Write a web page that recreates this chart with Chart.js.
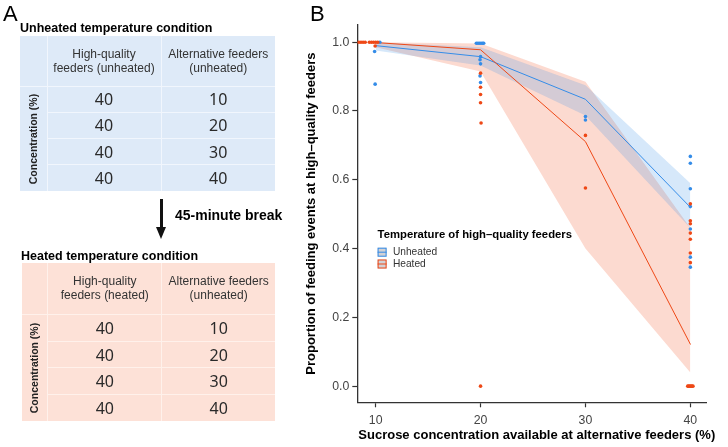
<!DOCTYPE html>
<html><head><meta charset="utf-8">
<script src="https://cdn.jsdelivr.net/npm/chart.js@4.4.0/dist/chart.umd.min.js"></script>
<style>
html,body{margin:0;padding:0;background:#fff;}
body{width:728px;height:447px;position:relative;overflow:hidden;font-family:'Liberation Sans',Arial,Helvetica,sans-serif;}
#chart{position:absolute;left:0;top:0;}
.t{position:absolute;white-space:nowrap;color:#000;}
.panel{font-size:22px;line-height:22px;}
.title{font-weight:bold;font-size:12.5px;line-height:14px;}
.tbl{position:absolute;display:grid;column-gap:1px;row-gap:1px;}
.cell{display:flex;align-items:center;justify-content:center;text-align:center;color:#333;overflow:visible;}
.hdr{font-size:12px;line-height:14px;}
.num{font-family:'Noto Sans',sans-serif;font-size:16px;color:#2a2a2a;}
.rowlab span{transform:rotate(-90deg);font-weight:bold;font-size:10.5px;white-space:nowrap;color:#222;display:block;}
.arrow-shaft{position:absolute;background:#111;}
.arrow-head{position:absolute;width:0;height:0;border-left:5.5px solid transparent;border-right:5.5px solid transparent;border-top:12px solid #111;}
</style></head>
<body>
<canvas id="chart" width="728" height="447"></canvas>
<div id="panelA"></div>
<script>
// ---------- Panel A table contents ----------
const highQualityConc = [40, 40, 40, 40];
const alternativeConc = [10, 20, 30, 40];
const unheatedHeader = [["High-quality", "feeders (unheated)"], ["Alternative feeders", "(unheated)"]];
const heatedHeader = [["High-quality", "feeders (heated)"], ["Alternative feeders", "(unheated)"]];

// ---------- Panel B data ----------
const concentrations = [10, 20, 30, 40];
const unheatedMean  = [0.990, 0.958, 0.834, 0.520];
const unheatedUpper = [1.000, 0.985, 0.875, 0.590];
const unheatedLower = [0.976, 0.932, 0.787, 0.460];
const heatedMean    = [0.999, 0.978, 0.711, 0.122];
const heatedUpper   = [1.000, 0.996, 0.885, 0.460];
const heatedLower   = [0.985, 0.915, 0.400, 0.040];

const unheatedPtsX = [10.4, 9.9, 9.95, 19.6, 19.75, 19.9, 20.05, 20.2, 20.3, 20.0, 19.95, 20.0, 19.95, 20.0, 30.0, 30.0, 40.0, 40.0, 40.0, 40.0, 40.0, 40.0, 40.0];
const unheatedPtsY = [1.0, 0.973, 0.878, 0.997, 0.997, 0.997, 0.997, 0.997, 0.997, 0.958, 0.949, 0.937, 0.902, 0.883, 0.784, 0.774, 0.668, 0.648, 0.574, 0.522, 0.457, 0.375, 0.346];
const heatedPtsX = [8.4, 8.6, 8.8, 9.0, 9.4, 9.6, 9.8, 10.0, 10.2, 9.95, 20.0, 20.0, 20.0, 20.0, 20.05, 20.0, 30.0, 30.0, 40.0, 40.0, 40.0, 40.0, 40.0, 40.0, 40.0, 39.75, 39.85, 39.95, 40.05, 40.15, 40.25];
const heatedPtsY = [1, 1, 1, 1, 1, 1, 1, 1, 1, 0.989, 0.910, 0.869, 0.848, 0.824, 0.765, 0.0, 0.729, 0.576, 0.530, 0.481, 0.472, 0.445, 0.427, 0.387, 0.359, 0, 0, 0, 0, 0, 0];

const xTicks = [10, 20, 30, 40];
const yTicks = [0, 0.2, 0.4, 0.6, 0.8, 1.0];
const legendTitle = "Temperature of high\u2013quality feeders";
const legendLabels = ["Unheated", "Heated"];
const xTitle = "Sucrose concentration available at alternative feeders (%)";
const yTitle = "Proportion of feeding events at high\u2013quality feeders";

const BLUE = 'rgb(52,140,232)';
const RED = 'rgb(238,72,22)';
const BLUE_FILL = 'rgba(52,140,232,0.2)';
const RED_FILL = 'rgba(238,72,22,0.2)';

// ---------- Build panel A ----------
const panelA = document.getElementById('panelA');
function addText(txt, cls, left, top, extra) {
  const d = document.createElement('div');
  d.className = 't ' + cls;
  d.textContent = txt;
  d.style.left = left + 'px';
  d.style.top = top + 'px';
  if (extra) Object.assign(d.style, extra);
  panelA.appendChild(d);
  return d;
}
function buildTable(cfg) {
  const t = document.createElement('div');
  t.className = 'tbl';
  t.style.left = cfg.left + 'px';
  t.style.top = cfg.top + 'px';
  t.style.gridTemplateColumns = cfg.cols.map(c => c + 'px').join(' ');
  t.style.gridTemplateRows = cfg.rows.map(r => r + 'px').join(' ');
  t.style.background = cfg.line;
  function cell(col, row, cls, html) {
    const c = document.createElement('div');
    c.className = 'cell ' + (cls || '');
    c.style.gridColumn = col;
    c.style.gridRow = row;
    c.style.background = cfg.bg;
    if (html !== undefined) c.innerHTML = html;
    t.appendChild(c);
    return c;
  }
  cell('1', '1', '', '');
  cell('2', '1', 'hdr', cfg.header[0].join('<br>'));
  cell('3', '1', 'hdr', cfg.header[1].join('<br>'));
  cell('1', '2 / 6', 'rowlab', '<span>Concentration (%)</span>');
  highQualityConc.forEach((v, i) => {
    cell('2', String(i + 2), 'num', String(v));
    cell('3', String(i + 2), 'num', String(alternativeConc[i]));
  });
  panelA.appendChild(t);
}
addText('A', 'panel', 3, 3);
addText('Unheated temperature condition', 'title', 20, 21);
buildTable({left: 19.5, top: 36, cols: [27, 113, 113.5], rows: [49.5, 25.3, 25.3, 25.3, 25.3], bg: '#deeaf8', line: '#f1f6fd', header: unheatedHeader});
const shaft = document.createElement('div');
shaft.className = 'arrow-shaft';
Object.assign(shaft.style, {left: '159.8px', top: '199px', width: '3.6px', height: '29px'});
panelA.appendChild(shaft);
const head = document.createElement('div');
head.className = 'arrow-head';
Object.assign(head.style, {left: '156.1px', top: '226.5px'});
panelA.appendChild(head);
addText('45-minute break', 'title', 175, 207, {fontSize: '14px', lineHeight: '16px'});
addText('Heated temperature condition', 'title', 21, 249);
buildTable({left: 21.5, top: 262.7, cols: [25.8, 113, 112.7], rows: [51.3, 25.7, 25.7, 25.7, 25.7], bg: '#fde1d7', line: '#fff1eb', header: heatedHeader});
addText('B', 'panel', 310, 3);

// ---------- Chart ----------
const toXY = (xs, ys) => xs.map((x, i) => ({x: x, y: ys[i]}));
const ribbon = (vals) => concentrations.map((c, i) => ({x: c, y: vals[i]}));

const legendPlugin = {
  id: 'customLegend',
  afterDatasetsDraw(chart) {
    const ctx = chart.ctx;
    const a = chart.chartArea;
    const x0 = a.left + 20.3, y0 = a.top + 209.5;
    ctx.save();
    ctx.textAlign = 'left';
    ctx.textBaseline = 'middle';
    ctx.fillStyle = '#000';
    ctx.font = 'bold 11.3px "Liberation Sans", Arial, sans-serif';
    ctx.fillText(legendTitle, x0, y0);
    const cols = [BLUE, RED];
    legendLabels.forEach((lab, i) => {
      const ky = y0 + 13.2 + i * 11.8;
      ctx.fillStyle = '#d2d2d6';
      ctx.fillRect(x0, ky, 9, 9);
      ctx.strokeStyle = cols[i];
      ctx.lineWidth = 1;
      ctx.strokeRect(x0 + 0.5, ky + 0.5, 8, 8);
      ctx.beginPath();
      ctx.moveTo(x0, ky + 4.5);
      ctx.lineTo(x0 + 9, ky + 4.5);
      ctx.stroke();
      ctx.fillStyle = '#333';
      ctx.font = '10.2px "Liberation Sans", Arial, sans-serif';
      ctx.fillText(lab, x0 + 15.3, ky + 4.6);
    });
    // x axis title (drawn here so it is not squeezed to the axis width)
    ctx.fillStyle = '#000';
    ctx.font = 'bold 13px "Liberation Sans", Arial, sans-serif';
    ctx.textBaseline = 'middle';
    ctx.fillText(xTitle, a.left + 1, chart.height - 11.3);
    ctx.restore();
  }
};

new Chart(document.getElementById('chart'), {
  type: 'line',
  data: {
    datasets: [
      {label: 'heatedUpper', data: ribbon(heatedUpper), borderWidth: 0, pointRadius: 0, fill: '+1', backgroundColor: RED_FILL, order: 10, tension: 0},
      {label: 'heatedLower', data: ribbon(heatedLower), borderWidth: 0, pointRadius: 0, fill: false, order: 10, tension: 0},
      {label: 'unheatedUpper', data: ribbon(unheatedUpper), borderWidth: 0, pointRadius: 0, fill: '+1', backgroundColor: BLUE_FILL, order: 9, tension: 0},
      {label: 'unheatedLower', data: ribbon(unheatedLower), borderWidth: 0, pointRadius: 0, fill: false, order: 9, tension: 0},
      {label: 'Unheated', data: ribbon(unheatedMean), borderColor: BLUE, borderWidth: 1, pointRadius: 0, fill: false, order: 5, tension: 0},
      {label: 'Heated', data: ribbon(heatedMean), borderColor: RED, borderWidth: 1, pointRadius: 0, fill: false, order: 4, tension: 0},
      {label: 'Unheated pts', data: toXY(unheatedPtsX, unheatedPtsY), showLine: false, pointRadius: 1.8, pointBorderWidth: 0, pointBackgroundColor: BLUE, backgroundColor: BLUE, borderColor: BLUE, order: 3},
      {label: 'Heated pts', data: toXY(heatedPtsX, heatedPtsY), showLine: false, pointRadius: 1.8, pointBorderWidth: 0, pointBackgroundColor: RED, backgroundColor: RED, borderColor: RED, order: 2}
    ]
  },
  options: {
    responsive: false,
    animation: false,
    devicePixelRatio: 1,
    layout: {padding: {left: 300, right: 21.3, top: 25, bottom: 0}},
    plugins: {legend: {display: false}, tooltip: {enabled: false}},
    elements: {line: {borderCapStyle: 'round'}},
    scales: {
      x: {
        type: 'linear',
        min: 8.25, max: 41.56,
        afterFit(s) { s.height = 44.7; },
        afterBuildTicks(s) { s.ticks = xTicks.map(v => ({value: v})); },
        grid: {drawOnChartArea: false, drawTicks: true, tickLength: 5, tickColor: '#333', tickWidth: 1.2},
        border: {display: true, color: '#333', width: 1.3},
        ticks: {padding: 5.5, color: '#444', font: {family: '"Liberation Sans", Arial, sans-serif', size: 12.3}, maxRotation: 0, callback: v => String(v)},
        title: {display: false}
      },
      y: {
        type: 'linear',
        min: -0.047, max: 1.05,
        afterFit(s) { s.width = 57.3; },
        afterBuildTicks(s) { s.ticks = yTicks.map(v => ({value: v})); },
        grid: {drawOnChartArea: false, drawTicks: true, tickLength: 5, tickColor: '#333', tickWidth: 1.2},
        border: {display: true, color: '#333', width: 1.3},
        ticks: {padding: 3, color: '#444', font: {family: '"Liberation Sans", Arial, sans-serif', size: 12.3}, callback: v => Number(v).toFixed(1)},
        title: {display: true, text: yTitle, color: '#000', padding: {top: 4, bottom: 0}, font: {family: '"Liberation Sans", Arial, sans-serif', size: 13, weight: 'bold'}}
      }
    }
  },
  plugins: [legendPlugin]
});
</script>
</body></html>
